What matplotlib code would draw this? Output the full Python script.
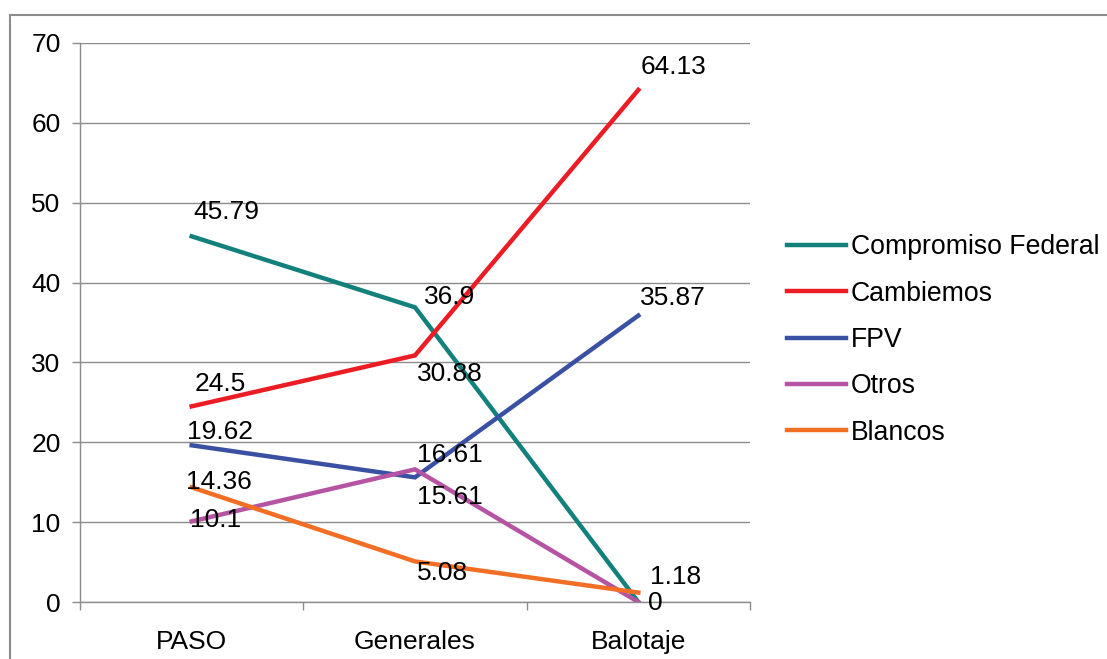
import matplotlib
matplotlib.use("Agg")
import matplotlib.pyplot as plt
from matplotlib.lines import Line2D
from matplotlib.transforms import offset_copy
import numpy as np

plt.rcParams['font.family'] = ['Liberation Sans', 'DejaVu Sans']

categories = ["PASO", "Generales", "Balotaje"]
series_names = ["Compromiso Federal", "Cambiemos", "FPV", "Otros", "Blancos"]
compromiso = [45.79, 36.9, 0]
cambiemos = [24.5, 30.88, 64.13]
fpv = [19.62, 15.61, 35.87]
otros = [10.1, 16.61, 0]
blancos = [14.36, 5.08, 1.18]
yticks = [0, 10, 20, 30, 40, 50, 60, 70]

series = [compromiso, cambiemos, fpv, otros, blancos]
colors = ["#12817C", "#EC1C24", "#3A50A2", "#B654A4", "#F26E24"]

# label offsets in pixels (dx from point to text left, dy from point to text centre; +up)
label_offsets = [
    [(2, 24), (9, 10), None],
    [(3, 22), (2, -19), (2, 23)],
    [(-5, 13), (2, -20), (2, 18)],
    [(-2, 1), (2, 14), None],
    [(-6, 5), (2, -12), (12, 16)],
]

W, H = 1107, 659
fig = plt.figure(figsize=(W / 100, H / 100), dpi=100)

# outer border
fig.add_artist(Line2D([10 / W, 1.0], [1 - 15 / H, 1 - 15 / H], color="#8C8C8C", lw=1.5,
                      transform=fig.transFigure))
fig.add_artist(Line2D([10 / W, 10 / W], [0, 1 - 15 / H], color="#8C8C8C", lw=1.5,
                      transform=fig.transFigure))

ax = fig.add_axes([80 / W, (H - 602) / H, 670 / W, 559 / H])
x = np.arange(len(categories))
for vals, name, col in zip(series, series_names, colors):
    ax.plot(x, vals, color=col, lw=3.2, label=name, solid_joinstyle='miter')

ax.set_xlim(-0.5, 2.5)
ax.set_ylim(0, 70)
ax.set_yticks(yticks)
ax.set_xticks(x)
ax.set_xticklabels(categories)
ax.set_xticks([-0.5, 0.5, 1.5, 2.5], minor=True)
ax.yaxis.grid(True, color="#8C8C8C", lw=1)
ax.set_axisbelow(True)
for s in ["top", "right"]:
    ax.spines[s].set_visible(False)
for s in ["left", "bottom"]:
    ax.spines[s].set_color("#8C8C8C")
    ax.spines[s].set_linewidth(1)
ax.tick_params(axis='y', length=6, color="#8C8C8C", width=1, labelsize=19, pad=8)
ax.tick_params(axis='x', which='major', length=0, labelsize=19, pad=20)
ax.tick_params(axis='x', which='minor', length=6, color="#8C8C8C", width=1)

# data labels
for vals, offs in zip(series, label_offsets):
    for xi, (v, off) in enumerate(zip(vals, offs)):
        if off is None:
            continue
        tr = offset_copy(ax.transData, fig=fig, x=off[0], y=off[1], units='dots')
        ax.text(xi, v, f"{v:g}", transform=tr, ha='left', va='center', fontsize=19,
                color="black", clip_on=False)

# the single "0" label at Balotaje
tr0 = offset_copy(ax.transData, fig=fig, x=10, y=-1, units='dots')
ax.text(2, otros[2], f"{otros[2]:g}", transform=tr0, ha='left', va='center',
        fontsize=19, color="black", clip_on=False)

leg = ax.legend(loc='center left', bbox_to_anchor=(787 / W, 1 - 340 / H),
                bbox_transform=fig.transFigure, frameon=False, fontsize=19.2,
                handlelength=2.2, handletextpad=0.2, labelspacing=0.76,
                borderaxespad=0, borderpad=0)

fig.savefig("out.png", dpi=100)
